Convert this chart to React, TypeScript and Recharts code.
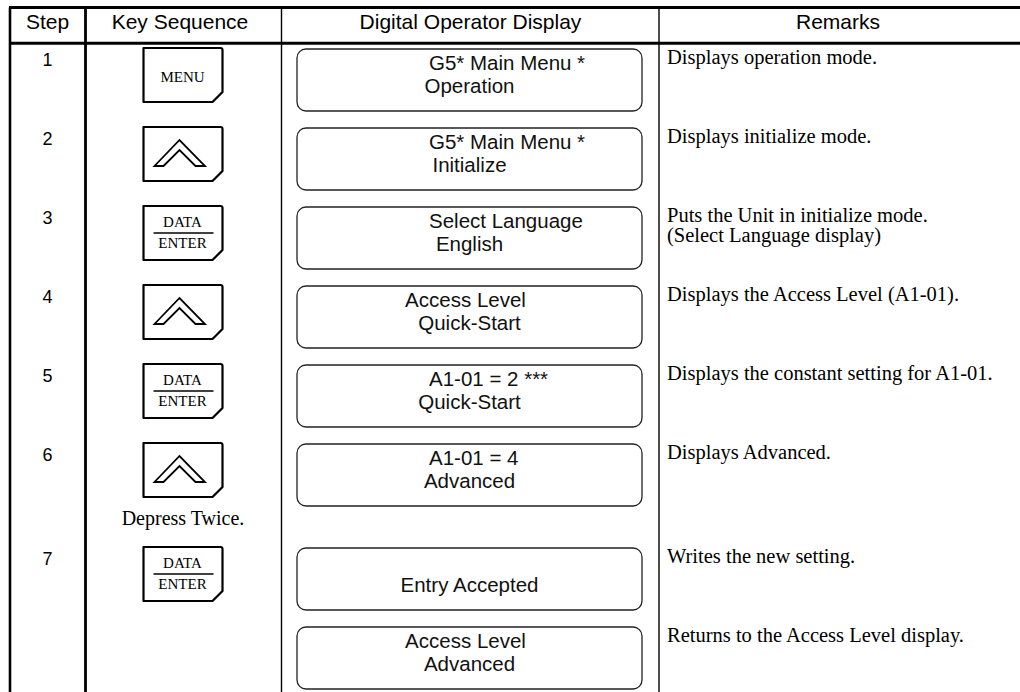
import { ComposedChart, Customized } from 'recharts';

// table contents, one entry per row
const steps = ['1', '2', '3', '4', '5', '6', '7', ''];
const keys = ['MENU', 'UP', 'DATA', 'UP', 'DATA', 'UP', 'DATA', ''];
const keyNotes = ['', '', '', '', '', 'Depress Twice.', '', ''];
const displayTop = [
  'G5* Main Menu *',
  'G5* Main Menu *',
  'Select Language',
  'Access Level',
  'A1-01 = 2 ***',
  'A1-01 = 4',
  '',
  'Access Level',
];
const displayBottom = [
  'Operation',
  'Initialize',
  'English',
  'Quick-Start',
  'Quick-Start',
  'Advanced',
  'Entry Accepted',
  'Advanced',
];
const remarks = [
  ['Displays operation mode.'],
  ['Displays initialize mode.'],
  ['Puts the Unit in initialize mode.', '(Select Language display)'],
  ['Displays the Access Level (A1-01).'],
  ['Displays the constant setting for A1-01.'],
  ['Displays Advanced.'],
  ['Writes the new setting.'],
  ['Returns to the Access Level display.'],
];
const headers = ['Step', 'Key Sequence', 'Digital Operator Display', 'Remarks'];

// LCD line alignment (style only)
const topAlign = ['lcd', 'lcd', 'lcd', 'center', 'lcd', 'lcd', 'center', 'center'];

const W = 1020;
const H = 692;
const SANS = '"Liberation Sans", Arial, sans-serif';
const SERIF = '"Liberation Serif", "Times New Roman", serif';
const cols = [10, 85.5, 281.5, 659, 1017];
const headerCenters = [47.5, 180, 470.5, 838];
const TOP = 7.5;
const HEAD_BOTTOM = 43.3;
const FIRST_ROW = 49;
const PITCH = 79;
const NOTE_EXTRA = 25;
const BOX_L = 297;
const BOX_R = 642;
const BOX_H = 62;
const LCD_LEFT = 429;
const KEY_L = 143.5;
const KEY_W = 79;
const KEY_H = 54;

const rows = steps.map((s, i) => ({
  step: s,
  key: keys[i],
  note: keyNotes[i],
  top: displayTop[i],
  bottom: displayBottom[i],
  remark: remarks[i],
}));

function rowTops() {
  const out: number[] = [];
  let y = FIRST_ROW;
  rows.forEach((r) => {
    out.push(y);
    y += PITCH + (r.note ? NOTE_EXTRA : 0);
  });
  return out;
}

function Key({ kind, x, y }: { kind: string; x: number; y: number }) {
  if (!kind) return null;
  const outline = `M${x},${y} L${x + KEY_W - 2},${y} Q${x + KEY_W},${y} ${x + KEY_W},${y + 2} L${x + KEY_W},${y + KEY_H - 10} L${x + KEY_W - 10},${y + KEY_H} L${x},${y + KEY_H} Z`;
  const cx = x + 39;
  return (
    <g>
      <path d={outline} fill="#fff" stroke="#000" strokeWidth={2.2} strokeLinejoin="round" />
      {kind === 'MENU' && (
        <text x={cx} y={y + 34} textAnchor="middle" fontFamily={SERIF} fontSize={15}>
          MENU
        </text>
      )}
      {kind === 'DATA' && (
        <g>
          <text x={cx} y={y + 21} textAnchor="middle" fontFamily={SERIF} fontSize={15}>
            DATA
          </text>
          <line x1={x + 10} x2={x + 70} y1={y + 27} y2={y + 27} stroke="#000" strokeWidth={1.6} />
          <text x={cx} y={y + 42} textAnchor="middle" fontFamily={SERIF} fontSize={15}>
            ENTER
          </text>
        </g>
      )}
      {kind === 'UP' && (
        <polygon
          points={[
            [x + 11, y + 39],
            [x + 20, y + 39],
            [x + 36, y + 23],
            [x + 52, y + 39],
            [x + 61.5, y + 39],
            [x + 36, y + 13],
          ]
            .map((p) => p.join(','))
            .join(' ')}
          fill="#fff"
          stroke="#000"
          strokeWidth={1.8}
          strokeLinejoin="miter"
        />
      )}
    </g>
  );
}

function TableLayer() {
  const tops = rowTops();
  const boxCenter = (BOX_L + BOX_R) / 2;
  return (
    <g>
      {/* frame */}
      <line x1={cols[0] - 1} x2={W} y1={TOP} y2={TOP} stroke="#000" strokeWidth={3} />
      <line x1={cols[0] - 1} x2={W} y1={HEAD_BOTTOM} y2={HEAD_BOTTOM} stroke="#000" strokeWidth={3} />
      <line x1={cols[0]} x2={cols[0]} y1={TOP} y2={H} stroke="#000" strokeWidth={2.6} />
      <line x1={cols[1]} x2={cols[1]} y1={TOP} y2={H} stroke="#000" strokeWidth={2.8} />
      <line x1={cols[2]} x2={cols[2]} y1={TOP} y2={H} stroke="#000" strokeWidth={1.4} />
      <line x1={cols[3]} x2={cols[3]} y1={TOP} y2={H} stroke="#000" strokeWidth={1.4} />

      {headers.map((h, i) => (
        <text key={h} x={headerCenters[i]} y={29} textAnchor="middle" fontFamily={SANS} fontSize={21}>
          {h}
        </text>
      ))}

      {rows.map((r, i) => {
        const y = tops[i];
        return (
          <g key={i}>
            {r.step && (
              <text x={47.5} y={y + 17} textAnchor="middle" fontFamily={SANS} fontSize={18}>
                {r.step}
              </text>
            )}
            <Key kind={r.key} x={KEY_L} y={y - 1} />
            {r.note && (
              <text x={183} y={y + 81} textAnchor="middle" fontFamily={SERIF} fontSize={20}>
                {r.note}
              </text>
            )}
            <rect
              x={BOX_L}
              y={y}
              width={BOX_R - BOX_L}
              height={BOX_H}
              rx={9}
              ry={9}
              fill="#fff"
              stroke="#222"
              strokeWidth={1.3}
            />
            {r.top && (
              <text
                x={topAlign[i] === 'lcd' ? LCD_LEFT : boxCenter - 4}
                y={y + 21}
                textAnchor={topAlign[i] === 'lcd' ? 'start' : 'middle'}
                fontFamily={SANS}
                fontSize={20.5}
                fill="#111"
              >
                {r.top}
              </text>
            )}
            <text x={boxCenter} y={y + 44} textAnchor="middle" fontFamily={SANS} fontSize={20.5} fill="#111">
              {r.bottom}
            </text>
            {r.remark.map((line, j) => (
              <text key={j} x={667} y={y + 15 + j * 20} fontFamily={SERIF} fontSize={20.5}>
                {line}
              </text>
            ))}
          </g>
        );
      })}
    </g>
  );
}

export default function App() {
  return (
    <div style={{ position: 'fixed', left: 0, top: 0, background: '#fff' }}>
      <ComposedChart width={W} height={H} data={rows} margin={{ top: 0, right: 0, bottom: 0, left: 0 }}>
        <Customized component={<TableLayer />} />
      </ComposedChart>
    </div>
  );
}
